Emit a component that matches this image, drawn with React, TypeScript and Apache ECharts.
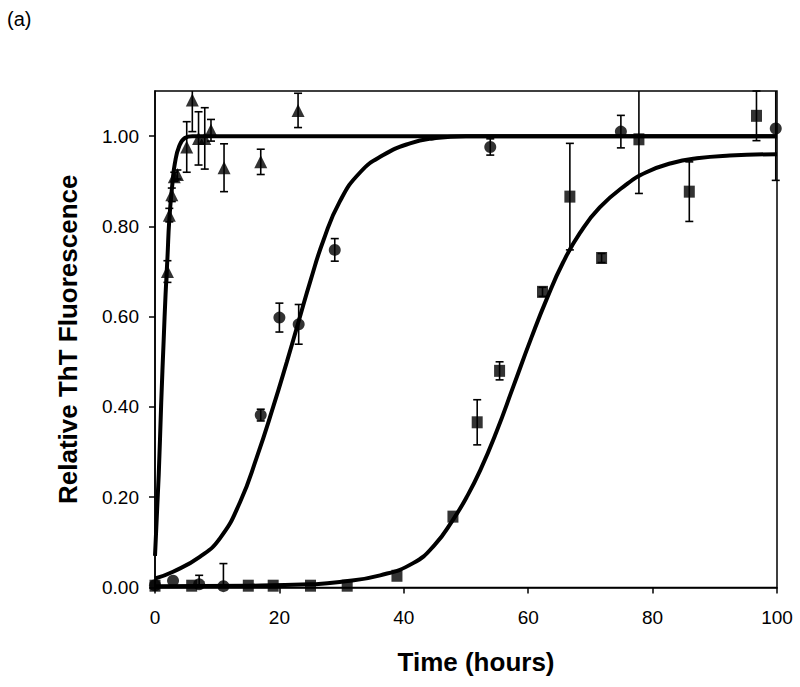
import React, { useEffect, useRef } from "react";
import * as echarts from "echarts";

// ---- Data ----
const yTicks = [0, 0.2, 0.4, 0.6, 0.8, 1.0];
const xTicks = [0, 20, 40, 60, 80, 100];

// Triangles (fast aggregation)
const triX = [2.0, 2.3, 2.7, 3.1, 3.6, 5.1, 6.0, 7.0, 8.0, 9.0, 11.1, 17.0, 23.0];
const triY = [0.70, 0.825, 0.87, 0.91, 0.915, 0.976, 1.08, 0.995, 0.995, 1.013, 0.93, 0.943, 1.057];
const triErr = [0.024, 0.015, 0.015, 0.01, 0.01, 0.056, 0.07, 0.059, 0.068, 0.024, 0.053, 0.028, 0.038];

// Circles (intermediate)
const cirX = [0, 2.9, 7.1, 11.0, 17.0, 20.0, 23.1, 28.9, 53.9, 74.9, 99.8];
const cirY = [0.005, 0.015, 0.007, 0.003, 0.382, 0.598, 0.583, 0.748, 0.976, 1.01, 1.017];
const cirErr = [0, 0, 0.02, 0.05, 0.013, 0.032, 0.044, 0.025, 0.018, 0.036, 0.115];

// Squares (slow)
const sqX = [0, 5.9, 15.0, 19.0, 25.0, 30.9, 38.9, 47.9, 51.8, 55.4, 62.3, 66.7, 71.8, 77.8, 85.9, 96.7];
const sqY = [0.004, 0.004, 0.004, 0.004, 0.004, 0.004, 0.026, 0.157, 0.366, 0.48, 0.655, 0.866, 0.73, 0.993, 0.877, 1.045];
const sqErr = [0, 0, 0, 0, 0, 0, 0, 0, 0.05, 0.02, 0.01, 0.118, 0.01, 0.12, 0.066, 0.055];

// Fitted curves
const fastCurveX = [0, 0.6, 1.0, 1.4, 1.7, 2.0, 2.3, 2.8, 3.2, 3.9, 4.8, 6, 100];
const fastCurveY = [0.07, 0.25, 0.41, 0.55, 0.65, 0.73, 0.815, 0.895, 0.94, 0.978, 0.996, 1.0, 1.0];

const midCurveX = [0, 2.9, 7.2, 10.5, 13.7, 16.4, 19.0, 21.2, 23.1, 25.0, 27.1, 29.7, 33.0, 36.7, 41, 44.7, 50, 100];
const midCurveY = [0.02, 0.035, 0.068, 0.11, 0.19, 0.29, 0.4, 0.5, 0.59, 0.68, 0.77, 0.855, 0.92, 0.958, 0.984, 0.995, 1.0, 1.0];

const slowCurveX = [0, 15, 25, 29.7, 36.2, 41.5, 45, 47.9, 50.1, 52.3, 54.9, 57.6, 60.5, 63, 65.6, 68.3, 71.5, 75.8, 79, 83, 87.1, 92.4, 100];
const slowCurveY = [0.003, 0.004, 0.007, 0.012, 0.027, 0.054, 0.095, 0.15, 0.2, 0.26, 0.345, 0.445, 0.553, 0.64, 0.72, 0.785, 0.842, 0.893, 0.92, 0.94, 0.951, 0.957, 0.96];

const Y_MIN = 0;
const Y_MAX = 1.1;
const FONT = "'Liberation Sans', Arial, sans-serif";

const zip2 = (a: number[], b: number[]) => a.map((v, i) => [v, b[i]]);
const zip3 = (a: number[], b: number[], c: number[]) => a.map((v, i) => [v, b[i], c[i]]);

function errorSeries(data: number[][]) {
  return {
    type: "custom",
    data,
    z: 3,
    silent: true,
    renderItem: (params: any, api: any) => {
      const x = api.value(0);
      const y = api.value(1);
      const e = api.value(2);
      if (!e) return { type: "group", children: [] };
      const lo = Math.max(y - e, Y_MIN);
      const hi = Math.min(y + e, Y_MAX);
      const pLo = api.coord([x, lo]);
      const pHi = api.coord([x, hi]);
      const hw = 4;
      const st = { stroke: "#000", lineWidth: 1.6 };
      const children: any[] = [
        { type: "line", shape: { x1: pLo[0], y1: pLo[1], x2: pHi[0], y2: pHi[1] }, style: st },
      ];
      if (y - e >= Y_MIN)
        children.push({ type: "line", shape: { x1: pLo[0] - hw, y1: pLo[1], x2: pLo[0] + hw, y2: pLo[1] }, style: st });
      if (y + e <= Y_MAX)
        children.push({ type: "line", shape: { x1: pHi[0] - hw, y1: pHi[1], x2: pHi[0] + hw, y2: pHi[1] }, style: st });
      return { type: "group", children };
    },
  };
}

function curveSeries(name: string, data: number[][]) {
  return {
    name,
    type: "line",
    data,
    showSymbol: false,
    smooth: 0.5,
    z: 2,
    lineStyle: { color: "#000", width: 4 },
    silent: true,
  };
}

export default function App() {
  const ref = useRef<HTMLDivElement>(null);
  useEffect(() => {
    if (!ref.current) return;
    const chart = echarts.init(ref.current, null, { renderer: "svg" });
    chart.setOption({
      animation: false,
      backgroundColor: "#fff",
      textStyle: { fontFamily: FONT },
      graphic: [
        {
          type: "text",
          left: 7,
          top: 9,
          style: { text: "(a)", fontSize: 20, fontFamily: FONT, fill: "#000" },
        },
      ],
      grid: {
        left: 155,
        right: 23,
        top: 91,
        bottom: 99.5,
        show: true,
        borderColor: "#000",
        borderWidth: 1.5,
        backgroundColor: "transparent",
      },
      xAxis: {
        type: "value",
        min: 0,
        max: 100,
        interval: 20,
        name: "Time (hours)",
        nameLocation: "middle",
        nameGap: 61,
        nameTextStyle: {
          fontSize: 26,
          fontWeight: "bold",
          color: "#000",
          fontFamily: FONT,
          padding: [0, 0, 0, 20],
        },
        axisLine: { lineStyle: { color: "#000", width: 1.5 } },
        axisTick: { show: true, inside: false, length: 6, lineStyle: { color: "#000", width: 1.5 }, customValues: xTicks },
        axisLabel: { fontSize: 19, color: "#000", margin: 20, fontFamily: FONT, customValues: xTicks },
        splitLine: { show: false },
      },
      yAxis: {
        type: "value",
        min: Y_MIN,
        max: Y_MAX,
        interval: 0.2,
        name: "Relative ThT Fluorescence",
        nameLocation: "middle",
        nameGap: 74,
        nameRotate: 90,
        nameTextStyle: { fontSize: 26, fontWeight: "bold", color: "#000", fontFamily: FONT },
        axisLine: { lineStyle: { color: "#000", width: 1.5 } },
        axisTick: { show: true, inside: false, length: 6, lineStyle: { color: "#000", width: 1.5 }, customValues: yTicks },
        axisLabel: {
          fontSize: 19,
          color: "#000",
          margin: 16,
          fontFamily: FONT,
          customValues: yTicks,
          formatter: (v: number) => v.toFixed(2),
        },
        splitLine: { show: false },
      },
      series: [
        curveSeries("fast fit", zip2(fastCurveX, fastCurveY)),
        curveSeries("intermediate fit", zip2(midCurveX, midCurveY)),
        curveSeries("slow fit", zip2(slowCurveX, slowCurveY)),
        errorSeries(zip3(triX, triY, triErr)),
        errorSeries(zip3(cirX, cirY, cirErr)),
        errorSeries(zip3(sqX, sqY, sqErr)),
        {
          name: "triangles",
          type: "scatter",
          data: zip2(triX, triY),
          symbol: "triangle",
          symbolSize: 13,
          itemStyle: { color: "#000" },
          z: 4,
        },
        {
          name: "circles",
          type: "scatter",
          data: zip2(cirX, cirY),
          symbol: "circle",
          symbolSize: 12,
          itemStyle: { color: "#000" },
          z: 4,
        },
        {
          name: "squares",
          type: "scatter",
          data: zip2(sqX, sqY),
          symbol: "rect",
          symbolSize: [11, 12],
          itemStyle: { color: "#000" },
          z: 4,
        },
      ],
    });
    return () => chart.dispose();
  }, []);
  return <div ref={ref} style={{ width: 800, height: 687, position: "absolute", left: 0, top: 0 }} />;
}
